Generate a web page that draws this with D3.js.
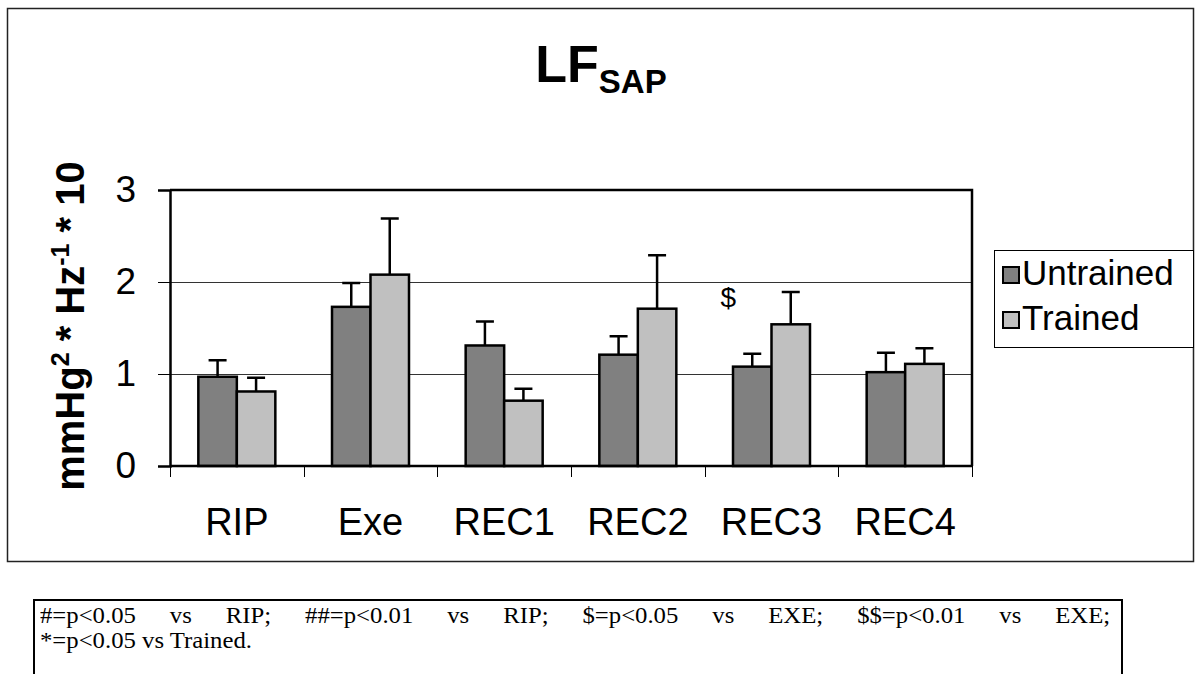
<!DOCTYPE html>
<html>
<head>
<meta charset="utf-8">
<script src="https://cdn.jsdelivr.net/npm/d3@7"></script>
<style>
  body { margin: 0; background: #fff; }
  #wrap { position: relative; width: 1195px; height: 674px; overflow: hidden; }
  svg { position: absolute; left: 0; top: 0; }
  #note {
    position: absolute; left: 33px; top: 599px; width: 1090px; height: 100px;
    box-sizing: border-box; border: 2px solid #000; padding: 2px 0 0 5px;
  }
  #note .txt {
    width: 1039px; transform: scaleX(1.03); transform-origin: 0 0;
    font-family: "Liberation Serif", "Times New Roman", serif; font-size: 24px;
    line-height: 25px; color: #000;
  }
  #note .l1 { text-align: justify; text-align-last: justify; }
</style>
</head>
<body>
<div id="wrap">
  <svg id="chart" width="1195" height="674"></svg>
  <div id="note">
    <div class="txt">
      <div class="l1">#=p&lt;0.05 vs RIP; ##=p&lt;0.01 vs RIP; $=p&lt;0.05 vs EXE; $$=p&lt;0.01 vs EXE;</div>
      <div>*=p&lt;0.05 vs Trained.</div>
    </div>
  </div>
</div>
<script>
"use strict";

// data
const categories = ["RIP", "Exe", "REC1", "REC2", "REC3", "REC4"];
const seriesNames = ["Untrained", "Trained"];
const untrained = [0.97, 1.73, 1.31, 1.21, 1.08, 1.02];
const untrainedErr = [0.18, 0.26, 0.26, 0.20, 0.14, 0.21];
const trained = [0.81, 2.08, 0.71, 1.71, 1.54, 1.11];
const trainedErr = [0.15, 0.61, 0.13, 0.58, 0.35, 0.17];
const yTicks = [0, 1, 2, 3];
const marks = [{ cat: "REC3", text: "$", value: 1.73 }];

const colors = { Untrained: "#808080", Trained: "#c0c0c0" };

const svg = d3.select("#chart");
const plot = { left: 170, right: 972, top: 190, bottom: 466 };
const font = "Arial, 'Liberation Sans', sans-serif";

// outer frame
svg.append("rect")
  .attr("x", 7.5).attr("y", 8.5)
  .attr("width", 1186).attr("height", 553)
  .attr("fill", "none").attr("stroke", "#222").attr("stroke-width", 1.5);

// title
const title = svg.append("text")
  .attr("x", 601).attr("y", 82)
  .attr("text-anchor", "middle")
  .style("font-family", font).style("font-weight", "bold")
  .style("font-size", "52px");
title.append("tspan").text("LF");
title.append("tspan").attr("dy", 11).style("font-size", "33px").text("SAP");

const x = d3.scaleBand()
  .domain(categories)
  .range([plot.left, plot.right])
  .paddingInner(0.424)
  .paddingOuter(0.212);

const xSub = d3.scaleBand()
  .domain(seriesNames)
  .range([0, x.bandwidth()]);

const y = d3.scaleLinear()
  .domain([0, 3])
  .range([plot.bottom, plot.top]);

// gridlines
svg.append("g")
  .selectAll("line")
  .data(yTicks.filter(t => t > 0 && t < 3))
  .enter()
  .append("line")
  .attr("x1", plot.left).attr("x2", plot.right)
  .attr("y1", d => Math.round(y(d)) + 0.5).attr("y2", d => Math.round(y(d)) + 0.5)
  .attr("stroke", "#333").attr("stroke-width", 1);

// plot frame top/right
svg.append("path")
  .attr("d", `M${plot.left},${plot.top}H${plot.right}V${plot.bottom}`)
  .attr("fill", "none").attr("stroke", "#000").attr("stroke-width", 2.5);

// bars
const rows = [];
categories.forEach((c, i) => {
  rows.push({ cat: c, s: "Untrained", v: untrained[i], e: untrainedErr[i] });
  rows.push({ cat: c, s: "Trained", v: trained[i], e: trainedErr[i] });
});

const bars = svg.append("g");

// error bars (drawn first so the bar border covers the base)
bars.selectAll("path.err")
  .data(rows)
  .enter()
  .append("path")
  .attr("class", "err")
  .attr("d", d => {
    const cx = x(d.cat) + xSub(d.s) + xSub.bandwidth() / 2;
    return `M${cx},${y(d.v)}V${y(d.v + d.e)}M${cx - 9},${y(d.v + d.e)}H${cx + 9}`;
  })
  .attr("fill", "none").attr("stroke", "#000").attr("stroke-width", 2.5);

bars.selectAll("rect")
  .data(rows)
  .enter()
  .append("rect")
  .attr("x", d => x(d.cat) + xSub(d.s))
  .attr("y", d => y(d.v))
  .attr("width", xSub.bandwidth())
  .attr("height", d => y(0) - y(d.v))
  .attr("fill", d => colors[d.s])
  .attr("stroke", "#000").attr("stroke-width", 2.5);

// significance marks
svg.append("g")
  .selectAll("text")
  .data(marks)
  .enter()
  .append("text")
  .attr("x", d => x(d.cat) + xSub("Untrained") + xSub.bandwidth() / 2 - 24)
  .attr("y", d => y(d.value))
  .attr("text-anchor", "middle")
  .style("font-family", font).style("font-size", "28px")
  .text(d => d.text);

// y axis
const yAxis = svg.append("g")
  .attr("transform", `translate(${plot.left},0)`)
  .call(d3.axisLeft(y).tickValues(yTicks).tickSize(12).tickPadding(22).tickFormat(d3.format("d")));
yAxis.select(".domain").attr("stroke-width", 2.5);
yAxis.selectAll(".tick line").attr("stroke-width", 1);
yAxis.selectAll("text").style("font-family", font).style("font-size", "37px");

// x axis: labels centred, ticks at category boundaries
const xAxis = svg.append("g")
  .attr("transform", `translate(0,${plot.bottom})`)
  .call(d3.axisBottom(x).tickSize(0).tickPadding(42));
xAxis.select(".domain").remove();
xAxis.selectAll("text").style("font-family", font).style("font-size", "38px");

const bounds = d3.scaleLinear().domain([0, categories.length]).range([plot.left, plot.right]);
xAxis.selectAll("line.bound")
  .data(d3.range(categories.length + 1))
  .enter()
  .append("line")
  .attr("class", "bound")
  .attr("x1", d => Math.round(bounds(d)) + 0.5).attr("x2", d => Math.round(bounds(d)) + 0.5)
  .attr("y1", 0).attr("y2", 11)
  .attr("stroke", "#000");
xAxis.append("line")
  .attr("x1", plot.left).attr("x2", plot.right)
  .attr("stroke", "#000").attr("stroke-width", 2.5);

// y axis title
const yTitle = svg.append("text")
  .attr("transform", "translate(84,326) rotate(-90)")
  .attr("text-anchor", "middle")
  .style("font-family", font).style("font-weight", "bold")
  .style("font-size", "40px");
yTitle.append("tspan").text("mmHg");
yTitle.append("tspan").attr("dy", -15).style("font-size", "25px").text("2");
yTitle.append("tspan").attr("dy", 15).text(" * Hz");
yTitle.append("tspan").attr("dy", -15).style("font-size", "25px").text("-1");
yTitle.append("tspan").attr("dy", 15).text(" * 10");

// legend
const legend = svg.append("g").attr("transform", "translate(994,250)");
legend.append("rect")
  .attr("x", 0.5).attr("y", 0.5).attr("width", 199).attr("height", 97)
  .attr("fill", "#fff").attr("stroke", "#000").attr("stroke-width", 1);
const item = legend.selectAll("g.item")
  .data(seriesNames)
  .enter()
  .append("g")
  .attr("class", "item")
  .attr("transform", (d, i) => `translate(9,${17 + i * 45})`);
item.append("rect")
  .attr("width", 16).attr("height", 16)
  .attr("fill", d => colors[d]).attr("stroke", "#000").attr("stroke-width", 2);
item.append("text")
  .attr("x", 19).attr("y", 18)
  .style("font-family", font).style("font-size", "35px")
  .text(d => d);
</script>
</body>
</html>
